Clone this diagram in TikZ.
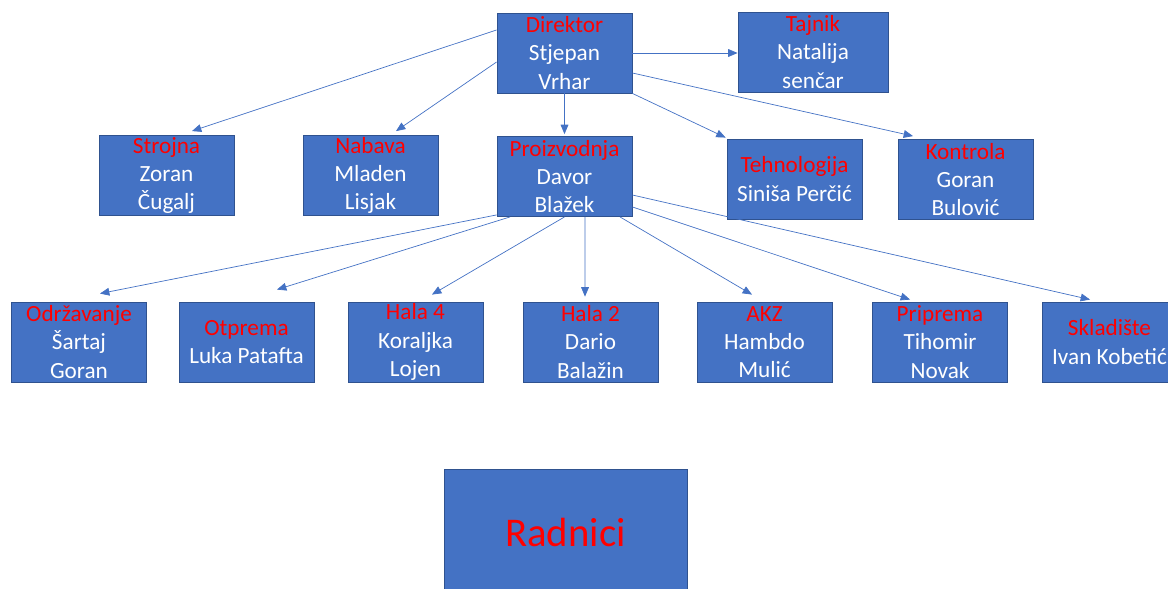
\documentclass[tikz,border=0pt]{standalone}
\usepackage{fontspec}
\setmainfont{Carlito}
\usepackage{tikz}
\usetikzlibrary{arrows}
\usetikzlibrary{calc}
\definecolor{boxblue}{HTML}{4472C4}
\definecolor{boxline}{HTML}{2F528F}
\tikzstyle{org}=[x=0.025cm, y=0.025cm, font=\fontsize{16.5}{20}\selectfont]
\tikzstyle{unit}=[rectangle, draw=boxline, fill=boxblue, text=white, align=center, inner sep=0pt, minimum width=3.375cm, minimum height=2cm, line width=0.6pt]
\tikzstyle{edge}=[-triangle 45, draw=boxblue, line width=0.5pt]
\newcommand{\odjel}[2]{\textcolor{red}{#1}\\#2}

\begin{document}
\begin{tikzpicture}[org]
	\useasboundingbox (0,0) rectangle (1168,588);
	% uprava
	\draw (564.5,535) node[unit] (dir) {\odjel{Direktor}{Stjepan\\Vrhar}};
	\draw (813,536) node[unit, minimum width=3.75cm] (taj) {\odjel{Tajnik}{Natalija\\senčar}};
	% odjeli
	\draw (166.5,412.5) node[unit] (stro) {\odjel{Strojna}{Zoran\\Čugalj}};
	\draw (370.5,412.5) node[unit] (nab) {\odjel{Nabava}{Mladen\\Lisjak}};
	\draw (564.5,411.5) node[unit] (proiz) {\odjel{Proizvodnja}{Davor\\Blažek}};
	\draw (794.5,409) node[unit] (teh) {\odjel{Tehnologija}{Siniša Perčić}};
	\draw (965.5,408.5) node[unit] (kon) {\odjel{Kontrola}{Goran\\Bulović}};
	% proizvodnja
	\draw (79,246) node[unit] (odr) {\odjel{Održavanje}{Šartaj\\Goran}};
	\draw (246.5,246) node[unit] (otp) {\odjel{Otprema}{Luka Patafta}};
	\draw (415.5,246) node[unit] (h4) {\odjel{Hala 4}{Koraljka\\Lojen}};
	\draw (590.5,246) node[unit] (h2) {\odjel{Hala 2}{Dario\\Balažin}};
	\draw (764.5,246) node[unit] (akz) {\odjel{AKZ}{Hambdo\\Mulić}};
	\draw (940,246) node[unit] (prip) {\odjel{Priprema}{Tihomir\\Novak}};
	\draw (1109.5,246) node[unit] (skl) {\odjel{Skladište}{Ivan Kobetić}};
	\draw (565.5,49) node[unit, minimum width=6.075cm, minimum height=3.5cm, text=red, font=\fontsize{29}{34}\selectfont] (rad) {\raisebox{0.32cm}{Radnici}};
	% veze
	\draw[edge] ($(dir.west)+(0,23)$) -- ($(stro.north)+(25.5,4)$);
	\draw[edge] ($(dir.west)+(0,-9)$) -- ($(nab.north)+(25.5,4)$);
	\draw[edge] (dir.south) -- ($(proiz.north)+(0,2)$);
	\draw[edge] (dir.east) -- (dir.east -| taj.west);
	\draw[edge] (dir.south east) -- ($(teh.north west)+(-1,1)$);
	\draw[edge] ($(dir.east)+(0,-20)$) -- ($(kon.north)+(-52.5,3)$);
	\draw[edge] ($(proiz.south west)+(0,2)$) -- ($(odr.north)+(21,8)$);
	\draw[edge] ($(proiz.south)+(-54.5,0)$) -- ($(otp.north)+(30.5,12)$);
	\draw[edge] (proiz.south) -- ($(h4.north)+(16.5,7)$);
	\draw[edge] ($(proiz.south)+(20.5,0)$) -- ($(h2.north)+(-5.5,5)$);
	\draw[edge] ($(proiz.south)+(55.5,0)$) -- ($(akz.north)+(-12.5,7)$);
	\draw[edge] ($(proiz.east)+(0,-30.5)$) -- ($(prip.north)+(-30,2)$);
	\draw[edge] ($(proiz.east)+(0,-18.5)$) -- ($(skl.north)+(-19.5,2)$);
\end{tikzpicture}
\end{document}
